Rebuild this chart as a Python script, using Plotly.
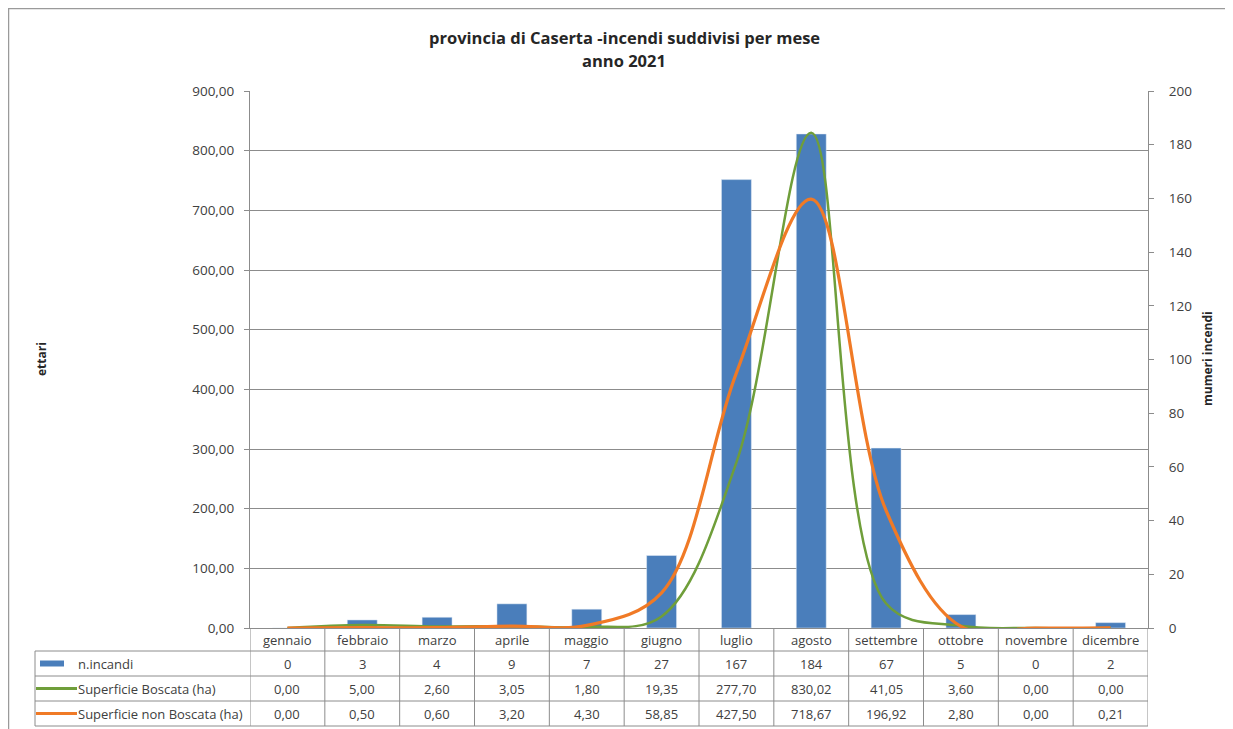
import plotly.graph_objects as go

# ---------------- data ----------------
months = ["gennaio", "febbraio", "marzo", "aprile", "maggio", "giugno",
          "luglio", "agosto", "settembre", "ottobre", "novembre", "dicembre"]
n_incendi = [0, 3, 4, 9, 7, 27, 167, 184, 67, 5, 0, 2]
sup_boscata = [0.00, 5.00, 2.60, 3.05, 1.80, 19.35, 277.70, 830.02, 41.05, 3.60, 0.00, 0.00]
sup_non_boscata = [0.00, 0.50, 0.60, 3.20, 4.30, 58.85, 427.50, 718.67, 196.92, 2.80, 0.00, 0.21]
series_names = ["n.incandi", "Superficie Boscata (ha)", "Superficie non Boscata (ha)"]
left_ticks = list(range(0, 901, 100))
right_ticks = list(range(0, 201, 20))
title_lines = ["provincia di Caserta -incendi suddivisi per mese", "anno 2021"]
left_title = "ettari"
right_title = "mumeri incendi"

# ---------------- style / layout constants (screen pixels) ----------------
OFF = 8                      # page body margin
W, H = 1233 - OFF, 729 - OFF
L, R, T, B = 250, 1148, 91, 628
row_edges = [628, 651, 676, 701, 726]
FONT = "Open Sans"
TXT = "#404040"
GRID = "#8c8c8c"
BLUE = "#4A7EBB"
GREEN = "#6F9E3A"
ORANGE = "#F07A26"


def px(p):
    return (p - L) / (R - L)


def py(p):
    return (B - p) / (B - T)


def fmt2(v):
    return f"{v:.2f}".replace(".", ",")


fig = go.Figure()
fig.add_trace(go.Bar(x=months, y=n_incendi, name=series_names[0], marker_color=BLUE,
                     width=0.4, yaxis="y", showlegend=False))
fig.add_trace(go.Scatter(x=months, y=sup_boscata, name=series_names[1], mode="lines",
                         line=dict(color=GREEN, width=2.5, shape="spline", smoothing=1),
                         yaxis="y2", showlegend=False))
fig.add_trace(go.Scatter(x=months, y=sup_non_boscata, name=series_names[2], mode="lines",
                         line=dict(color=ORANGE, width=3.2, shape="spline", smoothing=1),
                         yaxis="y2", showlegend=False))

shapes = []
annotations = []

# outer chart border
shapes.append(dict(type="rect", xref="paper", yref="paper",
                   x0=px(OFF + 0.5), x1=px(1260), y0=py(760), y1=py(OFF + 0.5),
                   line=dict(color="#9a9a9a", width=1.5), layer="below"))

# data table: horizontal lines
for e in row_edges[1:]:
    shapes.append(dict(type="line", xref="paper", yref="paper",
                       x0=px(35), x1=1, y0=py(e), y1=py(e),
                       line=dict(color=GRID, width=1)))
# legend column left border
shapes.append(dict(type="line", xref="paper", yref="paper",
                   x0=px(35), x1=px(35), y0=py(row_edges[1]), y1=py(row_edges[-1]),
                   line=dict(color=GRID, width=1)))
# vertical column dividers, on the category scale
for i in range(len(months) + 1):
    shapes.append(dict(type="line", xref="x", yref="paper",
                       x0=i - 0.5, x1=i - 0.5, y0=py(row_edges[0]), y1=py(row_edges[-1]),
                       line=dict(color=GRID, width=1)))

# table cells
rows = [
    [str(v) for v in n_incendi],
    [fmt2(v) for v in sup_boscata],
    [fmt2(v) for v in sup_non_boscata],
]
CELL_FONT = dict(family=FONT, size=13, color=TXT)
for j, m in enumerate(months):
    annotations.append(dict(x=m, xref="x", y=py((row_edges[0] + row_edges[1]) / 2), yref="paper",
                            text=m, showarrow=False, font=CELL_FONT,
                            xanchor="center", yanchor="middle"))
    for r in range(3):
        yc = (row_edges[r + 1] + row_edges[r + 2]) / 2
        annotations.append(dict(x=m, xref="x", y=py(yc), yref="paper",
                                text=rows[r][j], showarrow=False, font=CELL_FONT,
                                xanchor="center", yanchor="middle"))

# legend keys in table
for r in range(3):
    yc = (row_edges[r + 1] + row_edges[r + 2]) / 2
    annotations.append(dict(x=px(76), xref="paper", y=py(yc), yref="paper",
                            text=series_names[r], showarrow=False, font=CELL_FONT,
                            xanchor="left", yanchor="middle"))
yc0 = (row_edges[1] + row_edges[2]) / 2
shapes.append(dict(type="rect", xref="paper", yref="paper",
                   x0=px(40), x1=px(64), y0=py(yc0 + 3), y1=py(yc0 - 3),
                   fillcolor=BLUE, line=dict(width=0)))
for r, col in ((1, GREEN), (2, ORANGE)):
    yc = (row_edges[r + 1] + row_edges[r + 2]) / 2
    shapes.append(dict(type="line", xref="paper", yref="paper",
                       x0=px(36), x1=px(77), y0=py(yc), y1=py(yc),
                       line=dict(color=col, width=3)))

# titles
for txt, yy in zip(title_lines, (38, 60)):
    annotations.append(dict(x=px(624), xref="paper", y=py(yy), yref="paper", text="<b>" + txt + "</b>",
                            showarrow=False, font=dict(family=FONT, size=16.5, color="#262626"),
                            xanchor="center", yanchor="middle", align="center"))
annotations.append(dict(x=px(41), xref="paper", y=py(359), yref="paper", text="<b>" + left_title + "</b>",
                        showarrow=False, textangle=-90, font=dict(family=FONT, size=12, color="#262626"),
                        xanchor="center", yanchor="middle"))
annotations.append(dict(x=px(1207), xref="paper", y=py(359), yref="paper", text="<b>" + right_title + "</b>",
                        showarrow=False, textangle=-90, font=dict(family=FONT, size=12, color="#262626"),
                        xanchor="center", yanchor="middle"))

fig.update_layout(
    width=W, height=H,
    margin=dict(l=L - OFF, r=W - (R - OFF), t=T - OFF, b=H - (B - OFF), pad=0),
    paper_bgcolor="white", plot_bgcolor="white",
    separators=",.",
    font=dict(family=FONT, size=13, color=TXT),
    xaxis=dict(type="category", categoryorder="array", categoryarray=months,
               range=[-0.5, len(months) - 0.5], showticklabels=False, ticks="",
               showgrid=False, showline=True, linecolor=GRID, linewidth=1, zeroline=False),
    yaxis=dict(side="right", range=[0, 200], tickvals=right_ticks, ticks="outside", ticklen=5,
               tickcolor=GRID, showline=True, linecolor=GRID, linewidth=1, showgrid=False,
               zeroline=False, tickfont=dict(family=FONT, size=13.5, color=TXT),
               ticklabelstandoff=12),
    yaxis2=dict(overlaying="y", side="left", range=[0, 900], tickvals=left_ticks, tickformat=".2f",
                ticks="outside", ticklen=5, tickcolor=GRID, showline=True, linecolor=GRID, linewidth=1,
                showgrid=True, gridcolor=GRID, gridwidth=1, zeroline=False,
                tickfont=dict(family=FONT, size=13.5, color=TXT), ticklabelstandoff=7),
    shapes=shapes,
    annotations=annotations,
)

fig.write_html("out.html")
